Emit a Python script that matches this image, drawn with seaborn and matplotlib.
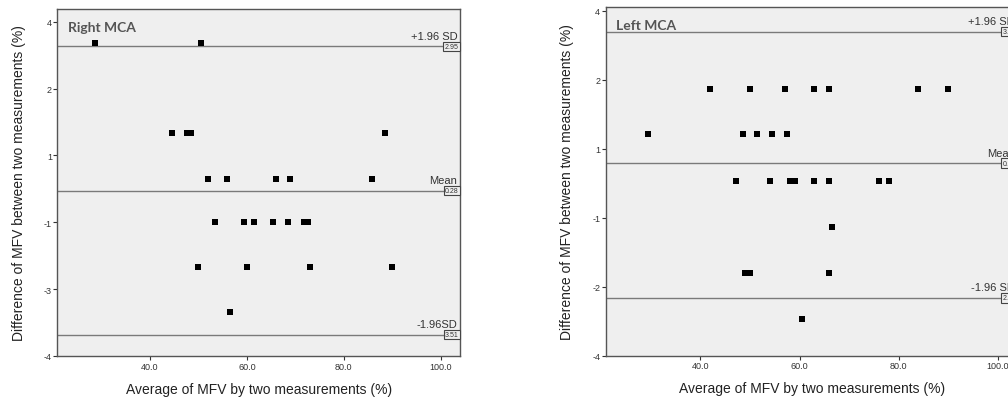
import numpy as np
import pandas as pd
import matplotlib
matplotlib.use("Agg")
import matplotlib.pyplot as plt
import seaborn as sns

# Right MCA (left panel)
right_avg = [28.7, 50.6, 44.6, 47.6, 48.5, 88.5, 52.0, 56.0, 66.0, 69.0, 85.9,
             53.5, 59.4, 61.5, 65.5, 68.5, 71.7, 72.7, 50.0, 60.0, 73.0, 90.0, 56.5]
right_diff = [3.35, 3.35, 1.33, 1.33, 1.33, 1.33, 0.31, 0.31, 0.31, 0.31, 0.31,
              -1.0, -1.0, -1.0, -1.0, -1.0, -1.0, -1.0, -2.35, -2.35, -2.35, -2.35, -3.34]
right_lines = [3.26, -0.05, -3.68]          # +1.96 SD, mean, -1.96 SD
right_line_text = ["+1.96 SD", "Mean", "-1.96SD"]
right_box_text = ["2.95", "0.28", "3.51"]
right_ticks = [-4, -3, -1, 1, 2, 4]

# Left MCA (right panel)
left_avg = [42.0, 50.0, 57.0, 63.0, 65.9, 83.9, 90.0,
            29.5, 48.5, 51.5, 54.5, 57.5,
            47.1, 54.0, 58.0, 59.0, 63.0, 65.9, 76.0, 78.0,
            66.5, 48.9, 50.1, 65.9, 60.5]
left_diff = [1.87, 1.87, 1.87, 1.87, 1.87, 1.87, 1.87,
             1.21, 1.21, 1.21, 1.21, 1.21,
             0.08, 0.08, 0.08, 0.08, 0.08, 0.08, 0.08, 0.08,
             -1.13, -1.80, -1.80, -1.80, -2.93]
left_lines = [3.40, 0.58, -2.32]
left_line_text = ["+1.96 SD", "Mean", "-1.96 SD"]
left_box_text = ["3.40", "0.58", "2.32"]
left_ticks = [-4, -2, -1, 1, 2, 4]

x_ticks = [40, 60, 80, 100]


def tick_scale(labels):
    # the original axis puts its tick labels at equal spacing
    lab = np.array(labels, float)
    pos = np.arange(len(lab), dtype=float)

    def fwd(v):
        v = np.asarray(v, float)
        out = np.interp(v, lab, pos)
        out = np.where(v > lab[-1], pos[-1] + (v - lab[-1]) / (lab[-1] - lab[-2]), out)
        out = np.where(v < lab[0], (v - lab[0]) / (lab[1] - lab[0]), out)
        return out

    def inv(p):
        p = np.asarray(p, float)
        out = np.interp(p, pos, lab)
        out = np.where(p > pos[-1], lab[-1] + (p - pos[-1]) * (lab[-1] - lab[-2]), out)
        out = np.where(p < 0, lab[0] + p * (lab[1] - lab[0]), out)
        return out

    return fwd, inv


sns.set_theme(style="ticks")
plt.rcParams["font.family"] = ["Liberation Sans", "DejaVu Sans"]

fig = plt.figure(figsize=(10.08, 4.02), dpi=100)
ax1 = fig.add_axes([0.057, 0.112, 0.3993, 0.863])
ax2 = fig.add_axes([0.601, 0.1127, 0.4084, 0.868])

panels = [
    (ax1, "Right MCA", right_avg, right_diff, right_lines, right_line_text, right_box_text, right_ticks, 4.38),
    (ax2, "Left MCA", left_avg, left_diff, left_lines, left_line_text, left_box_text, left_ticks, 4.12),
]

for ax, title, xs, ys, lines, ltext, btext, yt, ytop in panels:
    df = pd.DataFrame({"avg": xs, "diff": ys})
    ax.set_facecolor("#efefef")
    ax.set_yscale("function", functions=tick_scale(yt))
    sns.scatterplot(data=df, x="avg", y="diff", ax=ax, marker="s", color="black",
                    s=22, linewidth=0, zorder=3)
    for yv, t, b in zip(lines, ltext, btext):
        ax.axhline(yv, color="#7a7a7a", lw=1.0, zorder=2)
        ax.annotate(t, xy=(0.993, yv), xycoords=("axes fraction", "data"),
                    xytext=(0, 4), textcoords="offset points",
                    ha="right", va="bottom", fontsize=8, color="#333333")
        ax.annotate(b, xy=(0.997, yv), xycoords=("axes fraction", "data"),
                    ha="right", va="center", fontsize=5, color="#333333",
                    bbox=dict(boxstyle="square,pad=0.2", fc="#efefef", ec="#444444", lw=0.8),
                    zorder=4)
    ax.set_xlim(20.9, 104)
    ax.set_ylim(-4, ytop)
    ax.set_xticks(x_ticks)
    ax.set_xticklabels([f"{v:.1f}" for v in x_ticks])
    ax.set_yticks(yt)
    ax.set_yticklabels([str(v) for v in yt])
    ax.minorticks_off()
    ax.tick_params(labelsize=6.5, length=3, width=0.8, colors="#333333", pad=1)
    for sp in ax.spines.values():
        sp.set_color("#555555")
        sp.set_linewidth(1.0)
    ax.text(0.025, 0.965, title, transform=ax.transAxes, ha="left", va="top",
            fontsize=10, fontweight="bold", color="#555555", family=["Lato", "DejaVu Sans"])
    ax.set_xlabel("Average of MFV by two measurements (%)", fontsize=10, color="#222222", labelpad=8)
    ax.set_ylabel("Difference of MFV between two measurements (%)", fontsize=10,
                  color="#222222", labelpad=13)

fig.savefig("out.png", dpi=100)
